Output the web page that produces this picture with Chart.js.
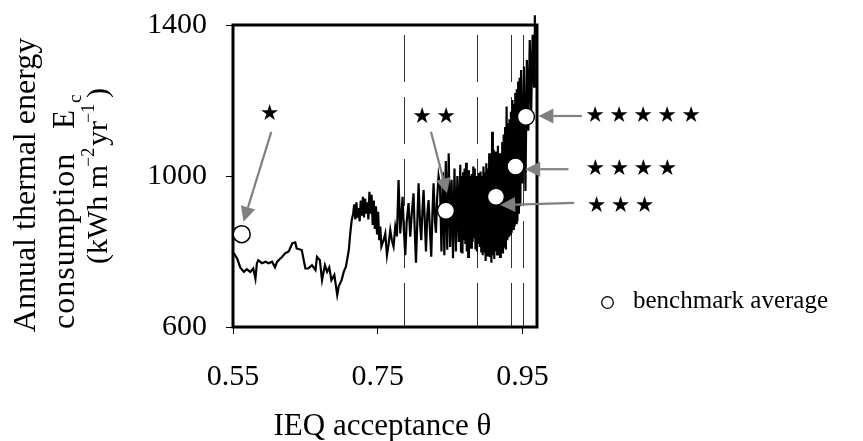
<!DOCTYPE html>
<html><head><meta charset="utf-8">
<script src="https://cdn.jsdelivr.net/npm/chart.js@4.4.1/dist/chart.umd.min.js"></script>
<style>html,body{margin:0;padding:0;background:#fff}#wrap{width:863px;height:441px;position:relative}</style>
</head><body><div id="wrap"><canvas id="c" width="863" height="441"></canvas></div>
<script>
// ---- data ----
const thetaValues = [
  0.537,0.541,0.545,0.549,0.553,0.556,0.560,0.565,0.569,0.574,0.578,0.581,0.583,0.585,0.590,0.595,0.599,0.604,0.608,0.611,
  0.613,0.618,0.622,0.627,0.632,0.636,0.638,0.645,0.650,0.654,0.659,0.664,0.666,0.670,0.673,0.677,0.680,0.683,0.686,0.690,
  0.694,0.696,0.700,0.703,0.706,0.710,0.712,0.714,
  0.716,0.7175,0.719,0.7205,0.722,0.7235,0.725,0.7265,0.728,0.7295,0.731,0.7325,0.734,0.7355,0.737,0.7385,0.740,0.7415,0.743,0.7445,
  0.746,0.7475,0.749,0.7505,0.752,0.7535,0.755,
  0.758,0.7604,0.7627,0.765,0.7673,0.7695,0.7718,0.7742,0.7765,0.7787,0.7811,0.7843,0.786,0.788,0.790,0.7925,0.7949,0.797,0.7994,0.801,
  0.8028,0.805,0.8064,0.8085,0.8101,0.812,0.8133,0.815,0.8166,0.8185,0.8202,0.822,0.8239,0.8255,0.8271,0.829,0.8304,0.832,0.834,
  0.836,0.838,0.840,0.842,0.844,0.846,0.848,0.850,0.852,0.854,0.856,0.858,0.860,0.862,
  0.864,0.865,0.866,0.867,0.868,0.869,0.870,0.871,0.872,0.873,0.874,0.875,0.876,0.877,0.878,0.879,0.880,0.881,0.882,0.883,
  0.884,0.885,0.886,0.887,0.888,0.889,0.890,0.891,0.892,0.893,0.894,0.895,0.896,0.897,0.898,0.899,0.900,0.901,0.902,0.903,
  0.904,0.905,0.906,0.907,0.908,0.909,0.910,0.911,0.912,0.913,0.914,0.915,0.916,0.917,0.918,0.919,0.920,0.921,0.922,0.923,
  0.924,0.925,0.926,0.927,0.928,0.929,0.930,0.931,0.932,0.933,0.934,0.935,0.936,0.937,0.938,0.939,0.940,0.941,0.942,0.943,
  0.944,0.945,0.946,0.947,0.948,0.950,0.952,0.954,0.956,0.958,0.960,0.962,0.964,0.966,0.967
];
const energyValues = [
  810,803,808,800,790,780,758,746,753,746,755,728,769,777,769,773,769,773,758,773,
  777,786,795,800,822,824,808,804,755,755,764,751,786,777,724,764,746,758,724,738,
  685,707,724,746,760,804,848,883,
  900,925,885,930,890,915,880,935,895,945,890,940,900,930,885,958,900,950,870,935,
  860,920,845,905,830,866,813,
  830,848,790,820,857,830,813,866,840,989,848,945,860,790,880,928,839,900,954,860,
  770,900,981,870,830,920,963,880,800,900,936,860,786,900,981,880,850,940,1000,
  975,800,1010,790,1040,805,1060,812,990,782,1020,800,1000,825,
  1030,800,1000,795,1010,830,1020,820,1035,800,990,786,1015,815,1000,810,1005,825,1025,838,
  1020,805,1000,800,995,820,1008,812,1012,800,1000,790,1025,800,1010,775,1034,790,1020,800,
  1060,785,1040,770,1117,790,1070,780,1065,800,1050,792,1080,800,1060,786,1060,800,1090,795,
  1110,810,1130,805,1184,830,1140,838,1150,845,1170,850,1201,860,1190,866,1220,875,1230,880,
  1250,900,1260,920,1281,980,1290,960,1307,1120,1360,1175,1374,1237,1426
];
const benchTheta = [0.562, 0.8442, 0.9133, 0.9403, 0.9547];
const benchEnergy = [846, 908, 945, 1025, 1157];
const starCounts = [1, 2, 3, 4, 5];
const starTheta = [0.6006, 0.8279, 1.0856, 1.1002, 1.1167];
const starEnergy = [1164, 1156, 919, 1019, 1159];
const arrowFromTheta = [0.6029, 0.8235, 1.0214, 1.0135, 1.032];
const arrowFromEnergy = [1117, 1117, 929, 1018, 1159];
const arrowToTheta = [0.5646, 0.8456, 0.9192, 0.9537, 0.972];
const arrowToEnergy = [879, 954, 923, 1018, 1159];
const ratingThresholds = [0.7866, 0.887, 0.934, 0.9505];
const xTicks = [0.55, 0.75, 0.95];
const yTicks = [600, 1000, 1400];

const SERIF = '"Liberation Serif", "Times New Roman", serif';

// draws rotated text pieces; each piece starts (bottom end) at s.at, or right after the previous one
function rotSeq(ctx, segs, baseX, centerY) {
  let total = 0;
  segs.forEach(s => {
    ctx.font = s.size + 'px ' + SERIF;
    ctx.letterSpacing = (s.ls || 0) + 'px';
    s.w = ctx.measureText(s.t).width;
    total += s.w;
  });
  let pos = centerY + total / 2;
  segs.forEach(s => {
    if (s.at !== undefined) pos = s.at;
    ctx.save();
    ctx.font = s.size + 'px ' + SERIF;
    ctx.letterSpacing = (s.ls || 0) + 'px';
    ctx.translate(baseX + (s.dy || 0), pos);
    ctx.rotate(-Math.PI / 2);
    ctx.textAlign = 'left';
    ctx.textBaseline = 'alphabetic';
    ctx.fillText(s.t, 0, 0);
    ctx.restore();
    pos -= s.w;
  });
}

const overlay = {
  id: 'overlay',
  beforeDatasetsDraw(chart) {
    const { ctx, chartArea: a, scales: { x } } = chart;
    ctx.save();
    ctx.strokeStyle = '#333';
    ctx.lineWidth = 1;
    ctx.setLineDash([47, 15]);
    ctx.lineDashOffset = 52;
    ratingThresholds.forEach(t => {
      const px = Math.round(x.getPixelForValue(t)) + 0.5;
      ctx.beginPath(); ctx.moveTo(px, a.top); ctx.lineTo(px, a.bottom); ctx.stroke();
    });
    ctx.setLineDash([]);
    ctx.lineWidth = 3;
    ctx.strokeStyle = '#000';
    ctx.strokeRect(a.left, a.top, a.right - a.left, a.bottom - a.top);
    ctx.restore();
  },
  afterDatasetsDraw(chart) {
    const { ctx, scales: { x, y } } = chart;
    ctx.save();
    ctx.strokeStyle = '#808080'; ctx.fillStyle = '#808080'; ctx.lineWidth = 2.2;
    for (let i = 0; i < arrowFromTheta.length; i++) {
      const x1 = x.getPixelForValue(arrowFromTheta[i]), y1 = y.getPixelForValue(arrowFromEnergy[i]);
      const x2 = x.getPixelForValue(arrowToTheta[i]), y2 = y.getPixelForValue(arrowToEnergy[i]);
      const ang = Math.atan2(y2 - y1, x2 - x1), hl = 15, hw = 7.5;
      const bx = x2 - hl * Math.cos(ang), by = y2 - hl * Math.sin(ang);
      ctx.beginPath(); ctx.moveTo(x1, y1); ctx.lineTo(bx, by); ctx.stroke();
      ctx.beginPath();
      ctx.moveTo(x2, y2);
      ctx.lineTo(bx + hw * Math.sin(ang), by - hw * Math.cos(ang));
      ctx.lineTo(bx - hw * Math.sin(ang), by + hw * Math.cos(ang));
      ctx.closePath(); ctx.fill();
    }
    ctx.fillStyle = '#000';
    ctx.font = '22px "DejaVu Sans"';
    ctx.textAlign = 'center'; ctx.textBaseline = 'middle';
    for (let i = 0; i < starCounts.length; i++) {
      const cx = x.getPixelForValue(starTheta[i]), cy = y.getPixelForValue(starEnergy[i]);
      const n = starCounts[i];
      for (let k = 0; k < n; k++) ctx.fillText('\u2605', cx + (k - (n - 1) / 2) * 24, cy);
    }
    ctx.restore();
  },
  afterDraw(chart) {
    const { ctx } = chart;
    ctx.save();
    ctx.fillStyle = '#000';
    rotSeq(ctx, [{ t: 'Annual thermal energy', size: 32 }], 35, 185);
    rotSeq(ctx, [
      { t: 'consumption', size: 32, ls: 1, at: 329 },
      { t: 'E', size: 31, at: 129 },
      { t: 'c', size: 19, dy: 7, at: 103 }
    ], 74, 206);
    rotSeq(ctx, [
      { t: '(kWh m', size: 30, at: 264 },
      { t: '\u22122', size: 18, dy: -13, at: 167 },
      { t: 'yr', size: 30, at: 146 },
      { t: '\u22121', size: 18, dy: -13, at: 123 },
      { t: ')', size: 30, at: 98 }
    ], 107, 175);
    ctx.letterSpacing = '0px';
    ctx.font = '31px ' + SERIF;
    ctx.textAlign = 'center'; ctx.textBaseline = 'alphabetic';
    ctx.fillText('IEQ acceptance \u03b8', 382.5, 435);
    ctx.beginPath(); ctx.arc(607.5, 302.5, 5.8, 0, Math.PI * 2);
    ctx.lineWidth = 1.3; ctx.strokeStyle = '#000'; ctx.stroke();
    ctx.font = '25px ' + SERIF; ctx.textAlign = 'left';
    ctx.fillText('benchmark average', 633, 308);
    ctx.restore();
  }
};

new Chart(document.getElementById('c').getContext('2d'), {
  type: 'scatter',
  data: {
    datasets: [
      {
        data: benchTheta.map((v, i) => ({ x: v, y: benchEnergy[i] })),
        pointRadius: 8.5, pointHoverRadius: 8.5, pointBackgroundColor: '#fff',
        pointBorderColor: '#000', pointBorderWidth: 1.5, order: 0
      },
      {
        data: thetaValues.map((v, i) => ({ x: v, y: energyValues[i] })),
        showLine: true, pointRadius: 0, borderColor: '#000', borderWidth: 2.2,
        tension: 0, clip: false, order: 1
      }
    ]
  },
  options: {
    responsive: false, animation: false, events: [],
    layout: { padding: { top: 25, right: 326, left: 0, bottom: 0 } },
    plugins: { legend: { display: false }, tooltip: { enabled: false } },
    scales: {
      x: {
        type: 'linear', min: 0.55, max: 0.97,
        afterBuildTicks: s => { s.ticks = xTicks.map(v => ({ value: v })); },
        afterFit: s => { s.height = 114; s.paddingLeft = 0; s.paddingRight = 0; },
        grid: { drawOnChartArea: false, tickLength: 7, color: '#000', lineWidth: 1 },
        border: { display: false },
        ticks: { font: { family: SERIF, size: 30 }, color: '#000', padding: 25, maxRotation: 0,
                 callback: v => Number(v).toFixed(2) }
      },
      y: {
        type: 'linear', min: 600, max: 1400,
        afterBuildTicks: s => { s.ticks = yTicks.map(v => ({ value: v })); },
        afterFit: s => { s.width = 233; s.paddingTop = 0; s.paddingBottom = 0; },
        grid: { drawOnChartArea: false, tickLength: 7, color: '#000', lineWidth: 1 },
        border: { display: false },
        ticks: { font: { family: SERIF, size: 30 }, color: '#000', padding: 19,
                 callback: v => String(v) }
      }
    }
  },
  plugins: [overlay]
});
</script></body></html>
